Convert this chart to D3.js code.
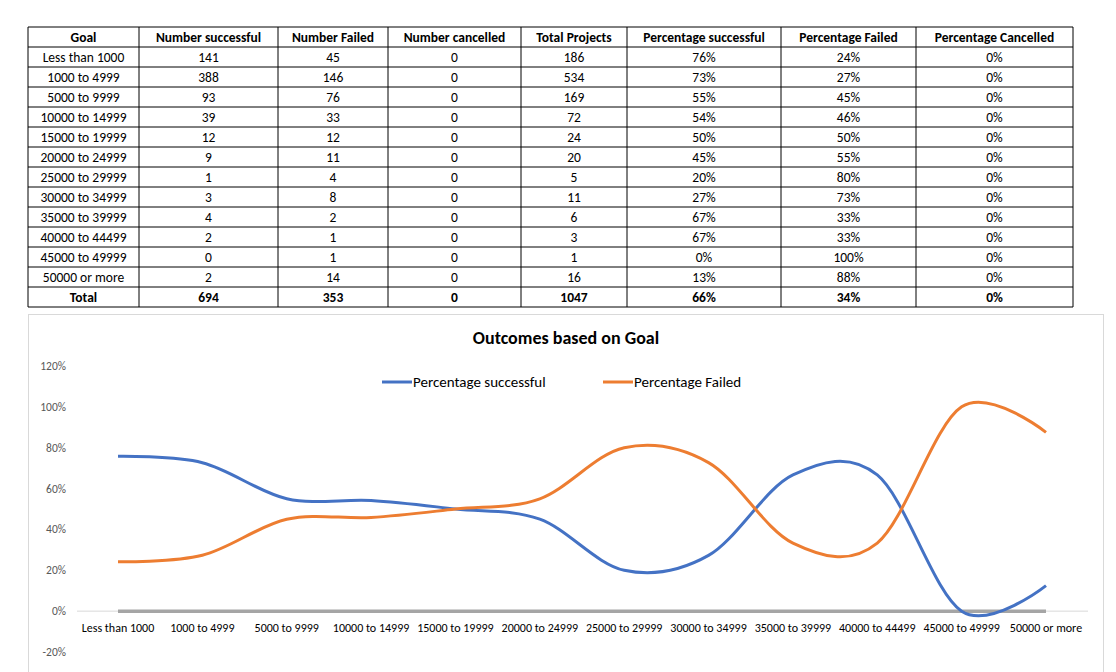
<!DOCTYPE html>
<html>
<head>
<meta charset="utf-8">
<script src="https://cdn.jsdelivr.net/npm/d3@7"></script>
<style>
  body { margin: 0; background: #fff; font-family: Calibri, Carlito, "Open Sans", sans-serif; }
</style>
</head>
<body>
<div id="chart"></div>
<script>
// data
const goals = ["Less than 1000", "1000 to 4999", "5000 to 9999", "10000 to 14999", "15000 to 19999",
  "20000 to 24999", "25000 to 29999", "30000 to 34999", "35000 to 39999", "40000 to 44499",
  "45000 to 49999", "50000 or more"];
const successful = [141, 388, 93, 39, 12, 9, 1, 3, 4, 2, 0, 2];
const failed = [45, 146, 76, 33, 12, 11, 4, 8, 2, 1, 1, 14];
const cancelled = [0, 0, 0, 0, 0, 0, 0, 0, 0, 0, 0, 0];
const headers = ["Goal", "Number successful", "Number Failed", "Number cancelled", "Total Projects",
  "Percentage successful", "Percentage Failed", "Percentage Cancelled"];
const yTicks = [-0.2, 0, 0.2, 0.4, 0.6, 0.8, 1.0, 1.2];

const W = 1116, H = 672;
const font = "Calibri, Carlito, 'Open Sans', sans-serif";
const svg = d3.select("#chart").append("svg").attr("width", W).attr("height", H);

const totals = goals.map((g, i) => successful[i] + failed[i] + cancelled[i]);
const pS = goals.map((g, i) => successful[i] / totals[i]);
const pF = goals.map((g, i) => failed[i] / totals[i]);
const pC = goals.map((g, i) => cancelled[i] / totals[i]);
const pct = v => Math.round(v * 100) + "%";

// table
const colX = [28, 139, 278, 388, 521, 627, 781, 916, 1073];
const rowH = 20, tTop = 27;
const sumS = d3.sum(successful), sumF = d3.sum(failed), sumC = d3.sum(cancelled), sumT = d3.sum(totals);
const rows = [headers]
  .concat(goals.map((g, i) => [g, successful[i], failed[i], cancelled[i], totals[i], pct(pS[i]), pct(pF[i]), pct(pC[i])]))
  .concat([["Total", sumS, sumF, sumC, sumT, pct(sumS / sumT), pct(sumF / sumT), pct(sumC / sumT)]]);

const table = svg.append("g");
rows.forEach((r, ri) => {
  const bold = ri === 0 || ri === rows.length - 1;
  r.forEach((cell, ci) => {
    table.append("text")
      .attr("x", (colX[ci] + colX[ci + 1]) / 2)
      .attr("y", tTop + ri * rowH + 15)
      .attr("text-anchor", "middle")
      .attr("font-family", font)
      .attr("font-size", 13.5)
      .attr("font-weight", bold ? "bold" : "normal")
      .attr("fill", "#000")
      .text(cell);
  });
});
d3.range(rows.length + 1).forEach(i => {
  table.append("line").attr("x1", colX[0]).attr("x2", colX[colX.length - 1])
    .attr("y1", tTop + i * rowH).attr("y2", tTop + i * rowH).attr("stroke", "#000");
});
colX.forEach(x => {
  table.append("line").attr("x1", x).attr("x2", x)
    .attr("y1", tTop).attr("y2", tTop + rows.length * rowH).attr("stroke", "#000");
});

// chart box
svg.append("rect").attr("x", 28.5).attr("y", 314.5).attr("width", 1075).attr("height", 370)
  .attr("fill", "#fff").attr("stroke", "#d9d9d9");

svg.append("text").attr("x", 566).attr("y", 344).attr("text-anchor", "middle")
  .attr("font-family", font).attr("font-size", 18).attr("font-weight", "bold").attr("fill", "#000")
  .text("Outcomes based on Goal");

const x = d3.scalePoint().domain(goals).range([118, 1046]);
const y = d3.scaleLinear().domain([-0.2, 1.2]).range([652, 366]);

const g = svg.append("g");
yTicks.forEach(t => {
  g.append("text").attr("x", 66).attr("y", y(t) + 4).attr("text-anchor", "end")
    .attr("font-family", font).attr("font-size", 11.5).attr("fill", "#595959")
    .text(Math.round(t * 100) + "%");
});
g.append("line").attr("x1", 77).attr("x2", 1088).attr("y1", y(0)).attr("y2", y(0))
  .attr("stroke", "#d9d9d9");
goals.forEach(c => {
  g.append("text").attr("x", x(c)).attr("y", y(0) + 21).attr("text-anchor", "middle")
    .attr("font-family", font).attr("font-size", 12).attr("fill", "#000").text(c);
});

const line = d3.line().x((d, i) => x(goals[i])).y(d => y(d)).curve(d3.curveCatmullRom.alpha(0));
g.append("path").attr("d", line(pC)).attr("fill", "none").attr("stroke", "#a5a5a5").attr("stroke-width", 3.5);
g.append("path").attr("d", line(pS)).attr("fill", "none").attr("stroke", "#4472c4").attr("stroke-width", 3);
g.append("path").attr("d", line(pF)).attr("fill", "none").attr("stroke", "#ed7d31").attr("stroke-width", 3);

// legend
const legend = [["Percentage successful", "#4472c4", 382], ["Percentage Failed", "#ed7d31", 603]];
legend.forEach(([name, col, lx]) => {
  g.append("line").attr("x1", lx).attr("x2", lx + 30).attr("y1", 382).attr("y2", 382)
    .attr("stroke", col).attr("stroke-width", 3);
  g.append("text").attr("x", lx + 31).attr("y", 387).attr("font-family", font)
    .attr("font-size", 15).attr("fill", "#000").text(name);
});
</script>
</body>
</html>
